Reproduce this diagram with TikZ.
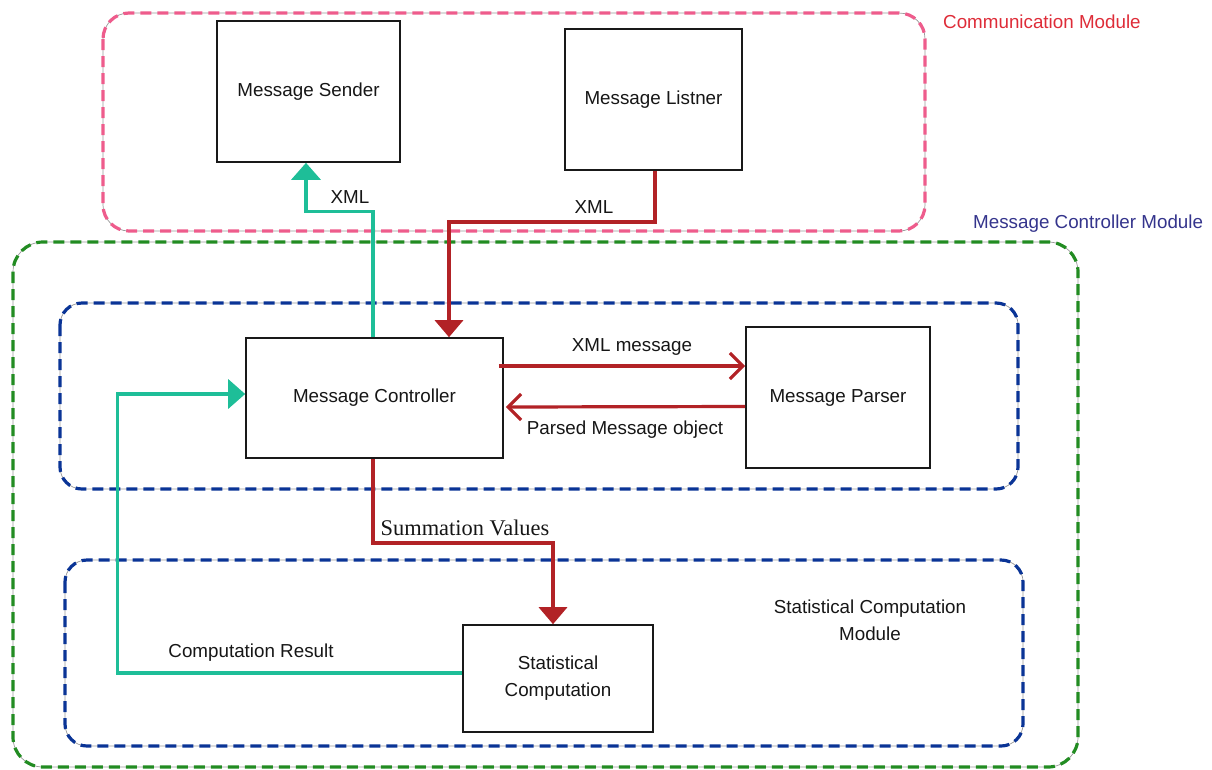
\documentclass[tikz,border=0pt]{standalone}
\usepackage{fontspec}
\setmainfont{Liberation Sans}
\newfontfamily\seriffam{Liberation Serif}
\usetikzlibrary{arrows.meta}

\definecolor{modpink}{RGB}{238,92,140}
\definecolor{modgreen}{RGB}{34,140,34}
\definecolor{modblue}{RGB}{10,52,150}
\definecolor{linkteal}{RGB}{30,190,152}
\definecolor{linkred}{RGB}{178,34,38}
\definecolor{labred}{RGB}{222,44,56}
\definecolor{labnavy}{RGB}{52,52,140}
\definecolor{ink}{RGB}{22,22,22}

\newcommand{\lblfont}{\fontsize{18.8}{22}\selectfont}

\tikzset{
  module/.style={line width=3.2pt, dash pattern=on 11pt off 6pt,
    rounded corners=#1,
    preaction={draw=black!40, line width=0.7pt, solid}},
  block/.style={draw=black!90, line width=1.6pt, fill=white,
    text=ink, align=center, inner sep=0pt, font=\lblfont},
  txt/.style={text=ink, font=\lblfont, inner sep=0pt},
  tealflow/.style={draw=linkteal, line width=3.4pt,
    -{Triangle[length=17pt,width=29pt]}},
  redflow/.style={draw=linkred, line width=3.4pt,
    -{Triangle[length=17pt,width=28pt]}},
  redmsg/.style={draw=linkred, line width=3.2pt,
    -{Straight Barb[length=13pt,width=26pt,line width=3.2pt]}},
}

\begin{document}
\begin{tikzpicture}[x=1pt,y=-1pt]
\useasboundingbox (0,0) rectangle (1212,769);

% module frames
\draw[module=26pt, modpink]  (103,13)  rectangle (925,231);
\draw[module=30pt, modgreen] (13,242)  rectangle (1078,767);
\draw[module=22pt, modblue]  (60,303)  rectangle (1018,489);
\draw[module=22pt, modblue]  (65,560)  rectangle (1023,746);

% module captions
\node[anchor=west, text=labred, font=\lblfont, inner sep=0pt]
  (capcomm) at (943,22) {Communication Module};
\node[anchor=west, text=labnavy, font=\lblfont, inner sep=0pt]
  (capctrl) at (973,224) {Message Controller Module};
\node[txt, align=center, font=\fontsize{18.8}{27}\selectfont]
  (capstat) at (870,620) {Statistical Computation\\Module};

% components
\node[block, minimum width=183pt, minimum height=141pt]
  (sender) at (308.5,91.5) {Message Sender};
\node[block, minimum width=177pt, minimum height=141pt]
  (listener) at (653.5,99.5) {Message Listner};
\node[block, minimum width=257pt, minimum height=120pt]
  (ctrl) at (374.5,398) {Message Controller};
\node[block, minimum width=184pt, minimum height=141pt]
  (parser) at (838,397.5) {Message Parser};
\node[block, minimum width=190pt, minimum height=107pt, font=\fontsize{18.8}{27}\selectfont]
  (stat) at (558,678.5) {Statistical\\Computation};

% connectors
\draw[tealflow] ([xshift=-1.5pt]ctrl.north) -- ++(0,-126) -| ([xshift=-2.5pt]sender.south);
\draw[redflow] ([xshift=1.5pt]listener.south) -- ++(0,51) -| ([xshift=74.5pt]ctrl.north);
\draw[redmsg] ([yshift=32pt,xshift=-5pt]ctrl.east) -- ([yshift=32pt]ctrl.east -| parser.west);
\draw[redmsg] ([yshift=-9pt]parser.west) -- ([yshift=-9pt,xshift=2pt]ctrl.east);
\draw[redflow] ([xshift=-1.5pt]ctrl.south) -- ++(0,84) -| ([xshift=-5pt]stat.north);
\draw[tealflow] ([yshift=5.5pt]stat.west) -- ++(-345,0) |- ([yshift=4pt]ctrl.west);

% connector labels
\node[txt] (lxml1) at (350,197) {XML};
\node[txt] (lxml2) at (594,207) {XML};
\node[txt] (lxmlmsg) at (632,347) {XML message};
\node[txt] (lparsed) at (625,430) {Parsed Message object};
\node[text=ink, inner sep=0pt, font=\seriffam\fontsize{22.4}{26}\selectfont]
  (lsum) at (465,528) {Summation Values};
\node[txt] (lresult) at (251,653) {Computation Result};
\end{tikzpicture}
\end{document}
